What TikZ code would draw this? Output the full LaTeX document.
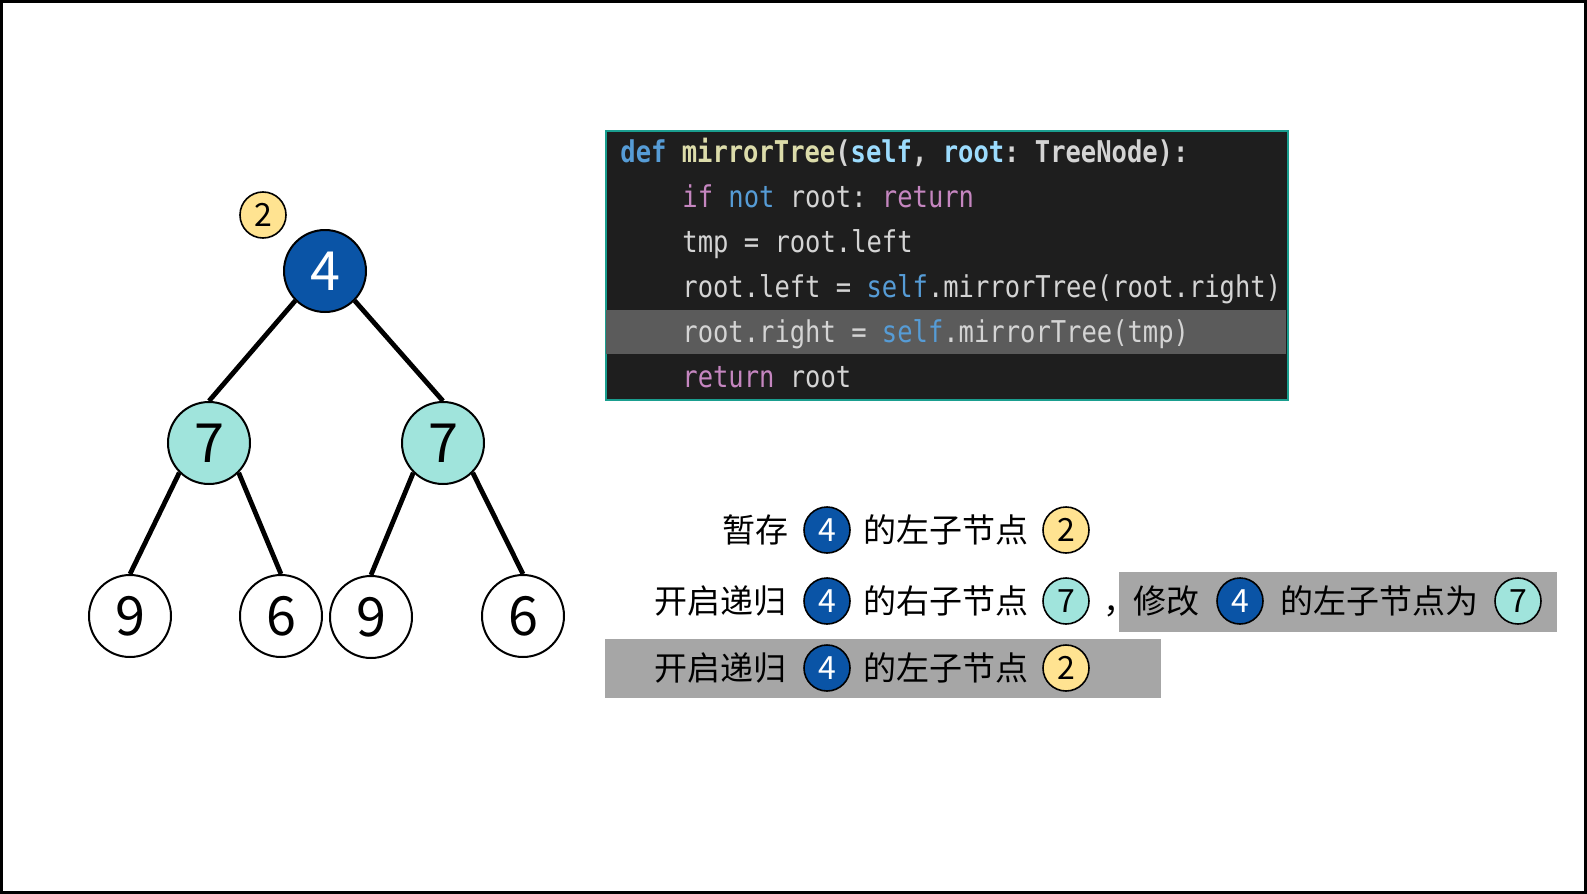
\documentclass[tikz,border=0pt]{standalone}
\usepackage{fontspec}
\setmainfont{Noto Sans CJK SC}
\newfontfamily\codefont[FakeStretch=0.85]{DejaVu Sans Mono}
\usepackage{xcolor}
\usepackage{tikz}
\usetikzlibrary{positioning}
\definecolor{ink}{HTML}{000000}
\definecolor{rootblue}{HTML}{0A54A6}
\definecolor{mint}{HTML}{A0E4DC}
\definecolor{sun}{HTML}{FFE391}
\definecolor{codebg}{HTML}{1E1E1E}
\definecolor{codeband}{HTML}{5B5B5B}
\definecolor{codeframe}{HTML}{1A9E8F}
\definecolor{codetext}{HTML}{D4D4D4}
\definecolor{kwblue}{HTML}{569CD6}
\definecolor{fnyellow}{HTML}{DCDCAA}
\definecolor{parblue}{HTML}{9CDCFE}
\definecolor{kwpink}{HTML}{C586C0}
\definecolor{markgray}{HTML}{A6A6A6}
\frenchspacing

\begin{document}
\begin{tikzpicture}[x=0.5pt,y=-0.5pt,node distance=7pt,
  tnode/.style={circle,draw=ink,line width=1pt,minimum size=41pt,inner sep=0pt,font=\fontsize{27pt}{27pt}\selectfont},
  badge/.style={circle,draw=ink,line width=0.8pt,minimum size=23pt,inner sep=0pt,font=\fontsize{16pt}{16pt}\selectfont},
  edge/.style={line width=2.4pt},
  codeln/.style={anchor=base west,inner sep=0pt,text=codetext,font=\codefont\fontsize{15pt}{15pt}\selectfont},
  cjk/.style={inner sep=0pt,font=\fontsize{16.5pt}{16.5pt}\selectfont}]
\useasboundingbox (0,0) rectangle (1587,894);
\draw[line width=1.75pt] (1.75,1.75) rectangle (1585.25,892.25);

% tree
\node[tnode,fill=rootblue,text=white] (root) at (325,271) {4};
\node[tnode,fill=mint] (l7) at (209,443) {7};
\node[tnode,fill=mint] (r7) at (443,443) {7};
\node[tnode] (ll9) at (130,616) {9};
\node[tnode] (lr6) at (281,616) {6};
\node[tnode] (rl9) at (371,617) {9};
\node[tnode] (rr6) at (523,616) {6};
\node[badge,fill=sun] (tag2) at (263,215) {2};
\draw[edge] (root.south west)--(l7.north);
\draw[edge] (root.south east)--(r7.north);
\draw[edge] (l7.south west)--(ll9.north);
\draw[edge] (l7.south east)--(lr6.north);
\draw[edge] (r7.south west)--(rl9.north);
\draw[edge] (r7.south east)--(rr6.north);

% code
\node[draw=codeframe,fill=codebg,line width=1pt,inner sep=0pt,anchor=north west,minimum width=340.75pt,minimum height=134.25pt] (code) at (605,130) {};
\fill[codeband] (606,310) rectangle (1286,354);
\node[codeln] (cl1) at (620,162) {\bfseries\color{kwblue}def \color{fnyellow}mirrorTree\color{codetext}(\color{parblue}self\color{codetext}, \color{parblue}root\color{codetext}: TreeNode):};
\node[codeln] (cl2) at (682,207) {\color{kwpink}if \color{kwblue}not \color{codetext}root: \color{kwpink}return};
\node[codeln] (cl3) at (682,252) {tmp = root.left};
\node[codeln] (cl4) at (682,297) {root.left = \color{kwblue}self\color{codetext}.mirrorTree(root.right)};
\node[codeln] (cl5) at (682,342) {root.right = \color{kwblue}self\color{codetext}.mirrorTree(tmp)};
\node[codeln] (cl6) at (682,387) {\color{kwpink}return \color{codetext}root};

% steps
\fill[markgray] (1119,572) rectangle (1557,631.5);
\fill[markgray] (605,638.6) rectangle (1161,698.4);
\node[badge,fill=rootblue,text=white] (s1n4) at (827,530) {4};
\node[badge,fill=sun] (s1n2) at (1066,530) {2};
\node[cjk,left=of s1n4] (s1a) {暂存};
\node[cjk,right=6pt of s1n4] (s1b) {的左子节点};
\node[badge,fill=rootblue,text=white] (s2n4) at (827,601) {4};
\node[badge,fill=mint] (s2n7) at (1066,601) {7};
\node[badge,fill=rootblue,text=white] (s2m4) at (1240,601) {4};
\node[badge,fill=mint] (s2m7) at (1518,601) {7};
\node[cjk,left=8pt of s2n4] (s2a) {开启递归};
\node[cjk,right=6pt of s2n4] (s2b) {的右子节点};
\path (s2n7.east |- s2b.base) ++(13,0) node[cjk,anchor=base west] (s2c) {，};
\node[cjk,left=8pt of s2m4] (s2d) {修改};
\node[cjk,right=8pt of s2m4] (s2e) {的左子节点为};
\node[badge,fill=rootblue,text=white] (s3n4) at (827,668) {4};
\node[badge,fill=sun] (s3n2) at (1066,668) {2};
\node[cjk,left=8pt of s3n4] (s3a) {开启递归};
\node[cjk,right=6pt of s3n4] (s3b) {的左子节点};
\end{tikzpicture}
\end{document}
